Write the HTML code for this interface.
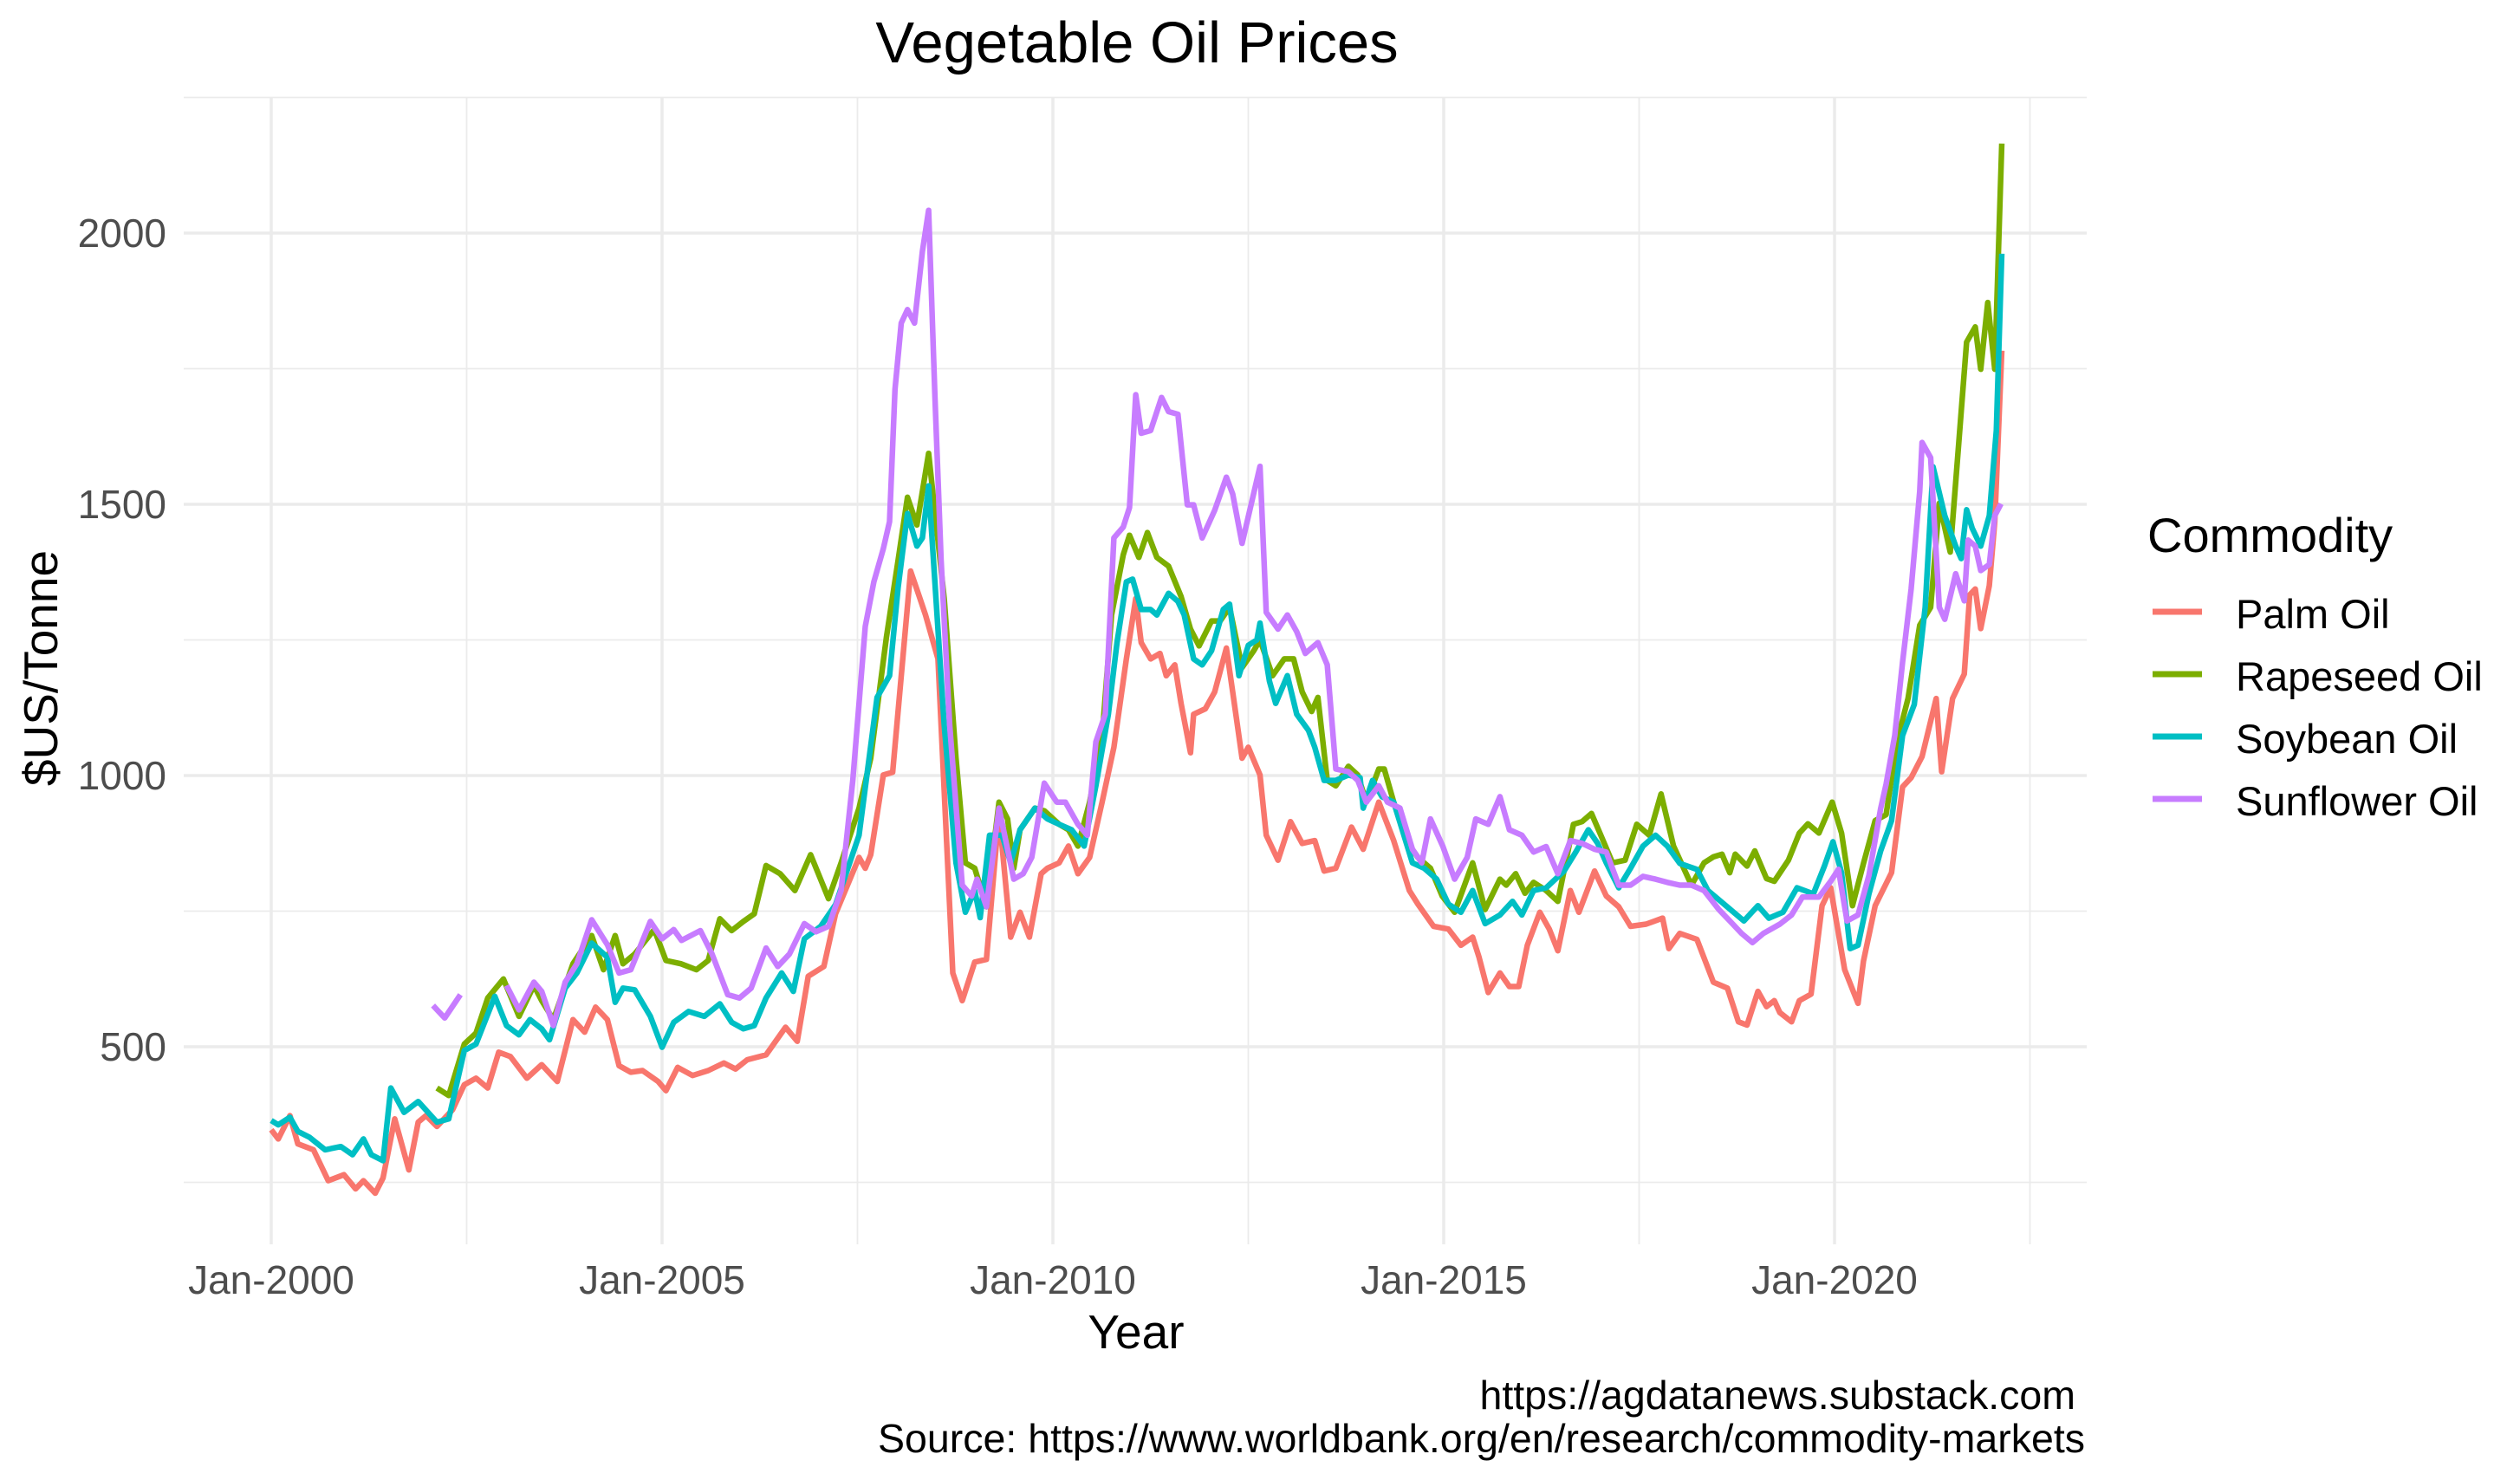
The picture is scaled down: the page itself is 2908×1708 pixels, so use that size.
<!DOCTYPE html>
<html><head><meta charset="utf-8"><style>
html,body{margin:0;padding:0;background:#fff;}
svg{display:block;font-family:"Liberation Sans",Arial,sans-serif;}
</style></head><body>
<svg id="chart" width="2908" height="1708" viewBox="0 0 2908 1708" xmlns="http://www.w3.org/2000/svg">
<rect x="0" y="0" width="2908" height="1708" fill="#fff"/>
<g id="grid"></g>
<g id="series"></g>
<g id="axes"></g>
<text x="1312" y="72" font-size="67" text-anchor="middle" fill="#000">Vegetable Oil Prices</text>
<text x="1311" y="1556" font-size="55" text-anchor="middle" fill="#000">Year</text>
<text transform="translate(66,771) rotate(-90)" font-size="55" text-anchor="middle" fill="#000">$US/Tonne</text>
<text x="2395" y="1626" font-size="46.5" text-anchor="end" fill="#000">https://agdatanews.substack.com</text>
<text x="2406" y="1676" font-size="46.5" text-anchor="end" fill="#000">Source: https://www.worldbank.org/en/research/commodity-markets</text>
<g id="legend">
<text x="2478" y="637" font-size="56" fill="#000">Commodity</text>
</g>
</svg>
<script>
const palmDates=[2000.0,2000.09,2000.24,2000.34,2000.54,2000.73,2000.93,2001.08,2001.18,2001.33,2001.43,2001.58,2001.76,2001.88,2001.98,2002.12,2002.32,2002.47,2002.62,2002.77,2002.91,2003.06,2003.27,2003.46,2003.66,2003.86,2004.01,2004.15,2004.3,2004.45,2004.6,2004.75,2004.95,2005.05,2005.2,2005.39,2005.59,2005.79,2005.94,2006.09,2006.33,2006.58,2006.73,2006.87,2007.07,2007.22,2007.52,2007.6,2007.67,2007.83,2007.95,2008.18,2008.3,2008.37,2008.53,2008.72,2008.84,2009.0,2009.15,2009.31,2009.46,2009.58,2009.7,2009.85,2009.93,2010.08,2010.2,2010.32,2010.47,2010.63,2010.78,2010.94,2011.06,2011.13,2011.25,2011.37,2011.45,2011.56,2011.64,2011.76,2011.8,2011.95,2012.07,2012.22,2012.3,2012.42,2012.5,2012.65,2012.73,2012.88,2013.04,2013.19,2013.35,2013.47,2013.62,2013.82,2013.97,2014.17,2014.36,2014.56,2014.67,2014.87,2015.06,2015.22,2015.37,2015.45,2015.57,2015.72,2015.84,2015.96,2016.07,2016.23,2016.35,2016.46,2016.62,2016.73,2016.93,2017.08,2017.24,2017.39,2017.59,2017.8,2017.88,2018.02,2018.24,2018.45,2018.63,2018.77,2018.88,2019.02,2019.13,2019.23,2019.3,2019.45,2019.55,2019.7,2019.84,2019.95,2020.13,2020.3,2020.37,2020.52,2020.73,2020.87,2020.98,2021.12,2021.3,2021.37,2021.51,2021.66,2021.73,2021.8,2021.87,2021.98,2022.05,2022.14];
const palmValues=[347,330,373,321,310,253,264,238,253,230,258,367,273,361,373,353,384,430,442,424,490,482,442,467,436,550,527,573,550,465,453,456,436,419,462,447,456,470,459,476,485,536,510,630,648,745,849,829,854,1001,1006,1377,1326,1296,1215,636,585,656,661,930,702,748,702,819,829,839,870,819,849,951,1052,1215,1326,1245,1215,1225,1184,1204,1133,1042,1113,1123,1154,1235,1154,1032,1052,1001,890,844,915,875,880,824,829,905,864,951,880,788,763,722,717,687,702,666,600,636,611,611,687,748,717,677,788,748,824,778,758,722,726,737,681,709,698,619,608,546,540,602,574,585,563,546,585,597,760,793,642,580,658,760,821,979,996,1035,1142,1007,1142,1187,1333,1344,1271,1350,1468,1783];

const rapeDates=[2002.12,2002.27,2002.47,2002.62,2002.77,2002.97,2003.17,2003.36,2003.46,2003.61,2003.86,2004.1,2004.25,2004.4,2004.5,2004.65,2004.9,2005.05,2005.24,2005.44,2005.59,2005.74,2005.89,2006.04,2006.18,2006.33,2006.51,2006.7,2006.9,2007.13,2007.29,2007.52,2007.67,2007.87,2008.02,2008.14,2008.26,2008.41,2008.61,2008.76,2008.88,2009.0,2009.15,2009.31,2009.42,2009.5,2009.58,2009.77,2009.89,2010.08,2010.2,2010.32,2010.47,2010.63,2010.75,2010.9,2010.98,2011.1,2011.21,2011.33,2011.48,2011.64,2011.76,2011.87,2012.03,2012.14,2012.26,2012.42,2012.57,2012.65,2012.81,2012.96,2013.08,2013.19,2013.31,2013.39,2013.51,2013.62,2013.78,2013.9,2014.01,2014.17,2014.24,2014.36,2014.52,2014.67,2014.83,2014.98,2015.14,2015.37,2015.53,2015.72,2015.8,2015.92,2016.04,2016.15,2016.31,2016.46,2016.66,2016.77,2016.89,2017.01,2017.16,2017.32,2017.47,2017.63,2017.78,2017.94,2018.17,2018.33,2018.45,2018.56,2018.66,2018.73,2018.88,2018.98,2019.13,2019.23,2019.41,2019.55,2019.66,2019.8,2019.97,2020.09,2020.23,2020.37,2020.52,2020.66,2020.8,2020.94,2021.09,2021.23,2021.34,2021.48,2021.59,2021.69,2021.8,2021.87,2021.96,2022.05,2022.14];
const rapeValues=[424,410,505,525,590,625,556,613,585,550,653,705,642,705,653,671,716,659,653,642,659,736,714,731,745,834,819,788,854,773,839,940,1032,1255,1397,1513,1462,1594,1326,1032,839,829,758,951,920,829,900,940,935,910,900,870,951,1072,1296,1407,1443,1402,1448,1402,1386,1330,1270,1239,1285,1285,1310,1199,1230,1250,1184,1215,1215,1154,1118,1144,991,981,1017,1001,951,1012,1012,951,880,849,829,778,748,839,753,809,798,819,783,803,788,768,910,915,930,890,839,844,910,890,966,870,798,839,850,855,821,855,833,861,810,805,844,894,911,894,951,894,760,838,917,928,1063,1142,1277,1310,1502,1412,1614,1799,1827,1749,1872,1749,2165];

const soyDates=[2000.0,2000.09,2000.24,2000.34,2000.49,2000.69,2000.89,2001.04,2001.18,2001.28,2001.43,2001.53,2001.7,2001.88,2002.12,2002.27,2002.47,2002.62,2002.86,2003.01,2003.17,2003.31,2003.46,2003.56,2003.76,2003.91,2004.1,2004.3,2004.4,2004.5,2004.65,2004.85,2005.0,2005.15,2005.34,2005.54,2005.74,2005.89,2006.04,2006.18,2006.33,2006.53,2006.68,2006.82,2007.03,2007.22,2007.52,2007.75,2007.91,2008.02,2008.14,2008.26,2008.33,2008.41,2008.61,2008.76,2008.88,2009.0,2009.07,2009.19,2009.35,2009.46,2009.58,2009.77,2009.93,2010.08,2010.24,2010.4,2010.55,2010.71,2010.82,2010.94,2011.02,2011.13,2011.25,2011.33,2011.48,2011.6,2011.68,2011.8,2011.91,2012.03,2012.18,2012.26,2012.38,2012.5,2012.61,2012.65,2012.77,2012.85,2013.0,2013.12,2013.27,2013.35,2013.47,2013.62,2013.78,2013.93,2013.97,2014.09,2014.21,2014.36,2014.6,2014.75,2014.91,2015.06,2015.22,2015.37,2015.53,2015.72,2015.88,2016.0,2016.15,2016.31,2016.54,2016.69,2016.85,2016.97,2017.08,2017.24,2017.39,2017.55,2017.71,2017.86,2018.02,2018.24,2018.38,2018.66,2018.84,2019.02,2019.16,2019.34,2019.52,2019.73,2019.87,2019.98,2020.09,2020.2,2020.3,2020.44,2020.59,2020.73,2020.87,2021.02,2021.16,2021.26,2021.41,2021.55,2021.62,2021.69,2021.76,2021.87,2021.98,2022.07,2022.14];
const soyValues=[364,356,370,344,333,310,316,301,330,301,290,424,379,399,361,367,493,505,593,539,522,550,533,513,608,636,691,665,582,608,605,556,499,545,565,556,579,545,533,539,590,636,602,699,722,762,890,1144,1184,1347,1483,1423,1438,1534,1093,839,748,788,738,890,890,839,900,940,920,910,900,870,981,1113,1245,1357,1362,1306,1306,1296,1336,1321,1296,1215,1204,1230,1306,1316,1184,1240,1250,1281,1174,1133,1184,1113,1083,1052,991,991,1001,996,940,991,961,951,839,829,809,763,748,788,727,743,768,743,788,793,824,859,900,875,839,793,829,870,890,870,838,827,788,754,732,760,737,748,793,782,833,878,821,681,687,782,861,917,1074,1131,1310,1569,1479,1423,1400,1490,1456,1423,1479,1636,1962];

const sunDates=[2002.07,2002.22,2002.42,2002.7,2003.01,2003.17,2003.36,2003.46,2003.61,2003.76,2003.91,2004.1,2004.3,2004.45,2004.6,2004.85,2005.0,2005.15,2005.25,2005.49,2005.64,2005.84,2005.99,2006.14,2006.33,2006.48,2006.63,2006.82,2006.97,2007.13,2007.29,2007.44,2007.6,2007.71,2007.83,2007.91,2007.98,2008.06,2008.14,2008.23,2008.33,2008.41,2008.49,2008.57,2008.68,2008.84,2008.96,2009.03,2009.15,2009.31,2009.5,2009.62,2009.73,2009.89,2010.05,2010.16,2010.32,2010.44,2010.55,2010.67,2010.78,2010.9,2010.98,2011.06,2011.13,2011.25,2011.39,2011.48,2011.6,2011.72,2011.8,2011.91,2012.07,2012.22,2012.3,2012.42,2012.65,2012.73,2012.88,2013.0,2013.12,2013.23,2013.39,2013.51,2013.62,2013.78,2013.9,2014.01,2014.17,2014.28,2014.44,2014.6,2014.72,2014.83,2014.99,2015.14,2015.3,2015.41,2015.57,2015.72,2015.84,2016.0,2016.15,2016.31,2016.46,2016.62,2016.77,2016.93,2017.08,2017.24,2017.39,2017.55,2017.71,2017.86,2018.02,2018.17,2018.33,2018.52,2018.66,2018.81,2018.95,2019.09,2019.3,2019.45,2019.59,2019.8,2019.95,2020.05,2020.16,2020.3,2020.44,2020.59,2020.66,2020.77,2020.87,2020.98,2021.09,2021.12,2021.23,2021.34,2021.41,2021.55,2021.66,2021.71,2021.8,2021.87,2021.98,2022.05,2022.13];
const sunValues=[576,553,596,null,613,568,619,602,539,619,653,734,688,636,642,731,699,716,696,714,671,596,590,608,682,648,671,727,712,722,788,991,1275,1357,1418,1468,1712,1834,1859,1834,1966,2042,1702,1397,1093,798,778,809,758,940,809,819,849,986,951,951,910,890,1062,1113,1438,1458,1494,1702,1631,1636,1697,1671,1666,1499,1499,1438,1489,1550,1519,1428,1570,1301,1270,1296,1265,1225,1245,1204,1012,1007,991,951,981,951,940,864,839,920,869,809,849,920,910,961,900,890,859,869,819,880,875,864,859,798,798,814,809,803,798,798,788,753,732,709,692,709,726,743,776,776,805,827,732,743,816,939,984,1074,1209,1344,1524,1614,1586,1310,1288,1372,1322,1434,1423,1378,1389,1479,1501];

const seriesNames=["Palm Oil","Rapeseed Oil","Soybean Oil","Sunflower Oil"];
const seriesColors=["#F8766D","#7CAE00","#00BFC4","#C77CFF"];
const yMajorTicks=[500,1000,1500,2000];
const yMinorTicks=[250,750,1250,1750,2250];
const xMajorTicks=[2000,2005,2010,2015,2020];
const xTickLabels=["Jan-2000","Jan-2005","Jan-2010","Jan-2015","Jan-2020"];
const xMinorTicks=[2002.5,2007.5,2012.5,2017.5,2022.5];

const NS="http://www.w3.org/2000/svg";
const PL=212,PR=2408,PT=112,PB=1436;
function xs(t){return 313+(t-2000)*90.2;}
function ys(v){return 1208-(v-500)*0.626;}
function mk(tag,attrs,parent){const e=document.createElementNS(NS,tag);for(const k in attrs)e.setAttribute(k,attrs[k]);parent.appendChild(e);return e;}

const grid=document.getElementById('grid');
yMinorTicks.forEach(v=>{const l=mk('line',{x1:PL,x2:PR,y1:ys(v),y2:ys(v),stroke:'#EBEBEB','stroke-width':1.8},grid);

});
xMinorTicks.forEach(t=>{const l=mk('line',{x1:xs(t),x2:xs(t),y1:PT,y2:PB,stroke:'#EBEBEB','stroke-width':1.8},grid);

});
yMajorTicks.forEach(v=>{const l=mk('line',{x1:PL,x2:PR,y1:ys(v),y2:ys(v),stroke:'#EBEBEB','stroke-width':3.5},grid);

});
xMajorTicks.forEach(t=>{const l=mk('line',{x1:xs(t),x2:xs(t),y1:PT,y2:PB,stroke:'#EBEBEB','stroke-width':3.5},grid);

});

const axes=document.getElementById('axes');
yMajorTicks.forEach(v=>{const t=mk('text',{x:192,y:ys(v)+16,'font-size':46,'text-anchor':'end',fill:'#4D4D4D'},axes);t.textContent=String(v);

});
xMajorTicks.forEach((yr,i)=>{const t=mk('text',{x:xs(yr),y:1493,'font-size':46,'text-anchor':'middle',fill:'#4D4D4D'},axes);t.textContent=xTickLabels[i];

});

const sg=document.getElementById('series');
const allDates=[palmDates,rapeDates,soyDates,sunDates];
const allValues=[palmValues,rapeValues,soyValues,sunValues];
allDates.forEach((dates,si)=>{
  const vals=allValues[si];let d='';let pen=false;
  for(let i=0;i<dates.length;i++){
    if(vals[i]===null){pen=false;continue;}
    d+=(pen?'L':'M')+xs(dates[i]).toFixed(1)+','+ys(vals[i]).toFixed(1);pen=true;
  }
  const p=mk('path',{d:d,fill:'none',stroke:seriesColors[si],'stroke-width':6.5,'stroke-linejoin':'round','stroke-linecap':'butt'},sg);
  
  
});

const lg=document.getElementById('legend');
const keyY=[706,778,850,922];
seriesNames.forEach((n,i)=>{
  const g=mk('g',{},lg);
  
  
  const l=mk('line',{x1:2484,x2:2541,y1:keyY[i],y2:keyY[i],stroke:seriesColors[i],'stroke-width':7},g);
  
  
  const t=mk('text',{x:2580,y:keyY[i]+19,'font-size':47,fill:'#000'},g);t.textContent=n;
  
  
});
</script>
</body></html>
